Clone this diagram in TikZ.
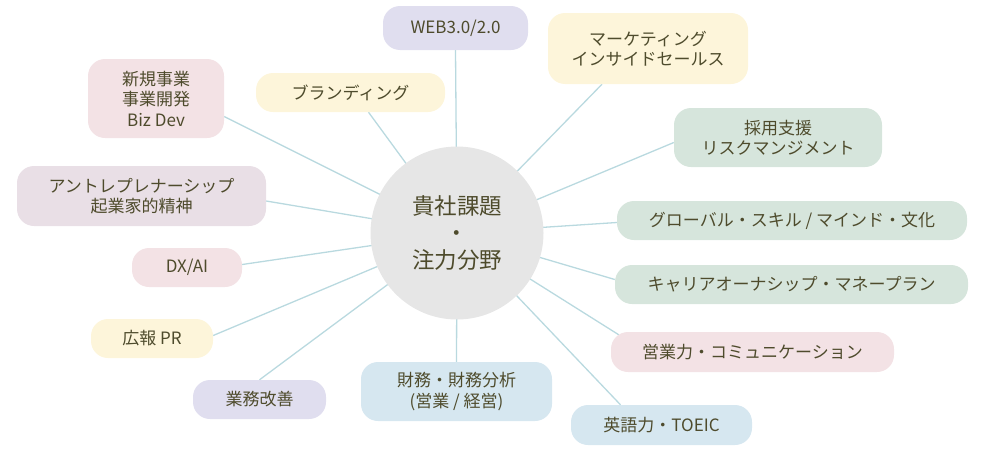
\documentclass[tikz,border=0pt]{standalone}
\usepackage{fontspec}
\setmainfont{Noto Sans CJK JP}
\usetikzlibrary{backgrounds}

\definecolor{inkolive}{HTML}{4E4B2C}
\definecolor{spoke}{HTML}{B9D9DF}
\definecolor{hubgray}{HTML}{E6E6E6}
\definecolor{lavender}{HTML}{E0DEEF}
\definecolor{cream}{HTML}{FDF5DA}
\definecolor{sage}{HTML}{D6E5DC}
\definecolor{blush}{HTML}{F3E2E5}
\definecolor{mauve}{HTML}{E9DFE6}
\definecolor{skyblue}{HTML}{D6E7F0}

\tikzset{
  topic/.style={rectangle, rounded corners=17pt, inner sep=0pt, align=center,
    text=inkolive, font=\fontsize{17}{20.5}\selectfont},
  hubnode/.style={circle, fill=hubgray, inner sep=0pt, minimum size=173pt,
    align=center, text=inkolive, font=\fontsize{22.5}{27}\selectfont},
  spokeline/.style={draw=spoke, line width=1.3pt}
}

\begin{document}
\begin{tikzpicture}[x=1pt, y=-1pt]
    \useasboundingbox (0,0) rectangle (1000,450);
    % --- centre ---
    \node[hubnode] (hub) at (457,233) {貴社課題\\・\\注力分野};
    % --- topics, clockwise from the top ---
    \node[topic, fill=lavender, minimum width=145pt, minimum height=44pt] (web) at (455.5,28) {WEB3.0/2.0};
    \node[topic, fill=cream, minimum width=200pt, minimum height=71pt] (mkt) at (648,48.5) {マーケティング\\インサイドセールス};
    \node[topic, fill=sage, minimum width=208pt, minimum height=59pt] (hire) at (778,137.5) {採用支援\\リスクマンジメント};
    \node[topic, fill=sage, minimum width=350pt, minimum height=39pt] (glob) at (792,220.5) {グローバル・スキル / マインド・文化};
    \node[topic, fill=sage, minimum width=353pt, minimum height=39pt] (career) at (791.5,284.5) {キャリアオーナシップ・マネープラン};
    \node[topic, fill=blush, minimum width=283pt, minimum height=40pt] (sales) at (752.5,352) {営業力・コミュニケーション};
    \node[topic, fill=skyblue, minimum width=181pt, minimum height=40pt] (eng) at (661.5,425) {英語力・TOEIC};
    \node[topic, fill=skyblue, minimum width=191pt, minimum height=59pt] (fin) at (456.5,391.5) {財務・財務分析\\(営業 / 経営)};
    \node[topic, fill=lavender, minimum width=133pt, minimum height=39pt] (ops) at (259.5,399.5) {業務改善};
    \node[topic, fill=cream, minimum width=122pt, minimum height=39pt] (pr) at (152,338.5) {広報 PR};
    \node[topic, fill=blush, minimum width=110pt, minimum height=39pt] (dx) at (187,267.5) {DX/AI};
    \node[topic, fill=mauve, minimum width=249pt, minimum height=60pt] (entre) at (141.5,196) {アントレプレナーシップ\\起業家的精神};
    \node[topic, fill=blush, minimum width=136pt, minimum height=79pt] (biz) at (156,98.5) {新規事業\\事業開発\\Biz Dev};
    \node[topic, fill=cream, minimum width=189pt, minimum height=39pt] (brand) at (350.5,92.5) {ブランディング};
    % --- spokes, under the nodes ---
    \begin{pgfonlayer}{background}
      \draw[spokeline] (hub.center) -- (web.south);
      \draw[spokeline] (hub.center) -- ([xshift=-46pt]mkt.south);
      \draw[spokeline] (hub.center) -- ([yshift=-5pt]hire.west);
      \draw[spokeline] (hub.center) -- ([yshift=-2pt]glob.west);
      \draw[spokeline] (hub.center) -- ([yshift=5pt]career.west);
      \draw[spokeline] (hub.center) -- ([xshift=8pt, yshift=-3pt]sales.north west);
      \draw[spokeline] (hub.center) -- ([xshift=-41pt]eng.north);
      \draw[spokeline] (hub.center) -- (fin.north);
      \draw[spokeline] (hub.center) -- (ops.north);
      \draw[spokeline] (hub.center) -- ([yshift=3pt]pr.east);
      \draw[spokeline] (hub.center) -- ([yshift=3pt]dx.east);
      \draw[spokeline] (hub.center) -- ([yshift=-5pt]entre.east);
      \draw[spokeline] (hub.center) -- ([yshift=-18pt]biz.east);
      \draw[spokeline] (hub.center) -- ([xshift=18pt]brand.south);
    \end{pgfonlayer}
\end{tikzpicture}
\end{document}
